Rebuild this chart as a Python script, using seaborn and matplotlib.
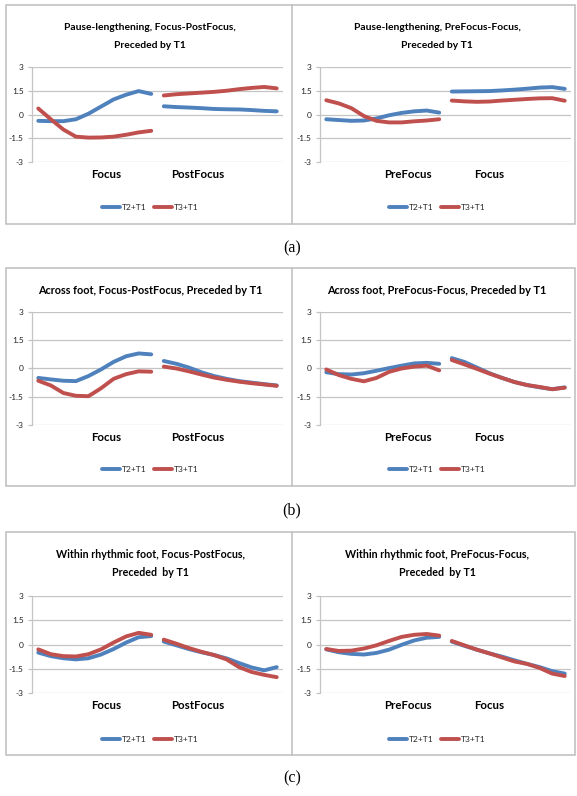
import pandas as pd
import matplotlib.pyplot as plt
import seaborn as sns
from matplotlib.lines import Line2D
from matplotlib.patches import Rectangle

# 20 measurement points per curve: 10 in the first region, 10 in the second
point_index = list(range(20))
segment_of_point = ["first"] * 10 + ["second"] * 10
series_names = ["T2+T1", "T3+T1"]
ytick_values = [-3, -1.5, 0, 1.5, 3]
ytick_labels = ["-3", "-1.5", "0", "1.5", "3"]

# (a) Pause-lengthening
pause_fp_t2 = [-0.4, -0.42, -0.42, -0.3, 0.05, 0.5, 0.95, 1.25, 1.48, 1.3,
               0.52, 0.47, 0.44, 0.4, 0.35, 0.33, 0.32, 0.28, 0.23, 0.2]
pause_fp_t3 = [0.38, -0.3, -0.95, -1.4, -1.46, -1.45, -1.4, -1.28, -1.13, -1.03,
               1.2, 1.28, 1.33, 1.38, 1.43, 1.5, 1.6, 1.68, 1.74, 1.65]
pause_pf_t2 = [-0.3, -0.35, -0.4, -0.38, -0.25, -0.05, 0.1, 0.2, 0.25, 0.12,
               1.45, 1.46, 1.47, 1.48, 1.52, 1.57, 1.63, 1.7, 1.73, 1.62]
pause_pf_t3 = [0.9, 0.7, 0.4, -0.1, -0.4, -0.5, -0.5, -0.43, -0.38, -0.3,
               0.88, 0.83, 0.8, 0.82, 0.88, 0.93, 0.98, 1.02, 1.03, 0.87]

# (b) Across foot
across_fp_t2 = [-0.5, -0.58, -0.65, -0.67, -0.4, -0.05, 0.35, 0.65, 0.8, 0.75,
                0.4, 0.25, 0.05, -0.2, -0.4, -0.55, -0.67, -0.75, -0.83, -0.9]
across_fp_t3 = [-0.65, -0.9, -1.3, -1.45, -1.47, -1.05, -0.55, -0.3, -0.15, -0.17,
                0.1, 0.0, -0.15, -0.32, -0.48, -0.6, -0.7, -0.78, -0.85, -0.92]
across_pf_t2 = [-0.2, -0.3, -0.32, -0.25, -0.12, 0.02, 0.15, 0.27, 0.3, 0.25,
                0.55, 0.35, 0.05, -0.25, -0.5, -0.72, -0.88, -1.0, -1.1, -1.0]
across_pf_t3 = [-0.05, -0.35, -0.55, -0.68, -0.5, -0.18, 0.0, 0.1, 0.15, -0.1,
                0.45, 0.22, -0.02, -0.27, -0.5, -0.72, -0.88, -0.98, -1.1, -1.02]

# (c) Within rhythmic foot
within_fp_t2 = [-0.5, -0.72, -0.85, -0.92, -0.85, -0.62, -0.28, 0.12, 0.45, 0.52,
                0.18, -0.05, -0.28, -0.48, -0.65, -0.86, -1.15, -1.42, -1.6, -1.4]
within_fp_t3 = [-0.3, -0.6, -0.72, -0.74, -0.6, -0.3, 0.12, 0.5, 0.72, 0.6,
                0.3, 0.05, -0.22, -0.45, -0.65, -0.92, -1.4, -1.7, -1.88, -2.02]
within_pf_t2 = [-0.3, -0.48, -0.58, -0.62, -0.52, -0.32, -0.02, 0.25, 0.42, 0.47,
                0.18, -0.08, -0.32, -0.55, -0.75, -0.98, -1.2, -1.4, -1.65, -1.8]
within_pf_t3 = [-0.28, -0.4, -0.38, -0.25, -0.05, 0.22, 0.47, 0.6, 0.65, 0.55,
                0.22, -0.05, -0.32, -0.55, -0.8, -1.05, -1.2, -1.45, -1.8, -1.95]

titles = [
    ["Pause-lengthening, Focus-PostFocus,", "Preceded by T1"],
    ["Pause-lengthening, PreFocus-Focus,", "Preceded by T1"],
    ["Across foot, Focus-PostFocus, Preceded by T1"],
    ["Across foot, PreFocus-Focus, Preceded by T1"],
    ["Within rhythmic foot, Focus-PostFocus,", "Preceded  by T1"],
    ["Within rhythmic foot, PreFocus-Focus,", "Preceded  by T1"],
]
category_labels = [["Focus", "PostFocus"], ["PreFocus", "Focus"]]
captions = ["(a)", "(b)", "(c)"]

W, H = 577, 796
BLUE, RED = "#4F81BD", "#C0504D"
GRID = "#c4c4c4"


def fig_rect(x0, x1, y0, y1):
    return [x0 / W, 1 - y1 / H, (x1 - x0) / W, (y1 - y0) / H]


def main():
    sns.set_theme(style="white")
    plt.rcParams["font.family"] = ["Liberation Sans Narrow", "Lato", "DejaVu Sans"]

    panels = [
        (pause_fp_t2, pause_fp_t3), (pause_pf_t2, pause_pf_t3),
        (across_fp_t2, across_fp_t3), (across_pf_t2, across_pf_t3),
        (within_fp_t2, within_fp_t3), (within_pf_t2, within_pf_t3),
    ]

    # layout in pixels
    col_axes_x = [(32, 283), (320, 571)]
    col_center = [150, 437]
    cat_pos = [[5.4, 12.7], [6.5, 13.0]]
    row_axes_y = [(67, 162), (312, 425), (596, 693)]
    row_title_y = [[28, 45], [290], [554, 573]]
    row_title_size = [7.4, 7.8, 7.7]
    row_legend_y = [207, 469, 739]
    row_box = [(5, 224), (268, 486), (532, 755)]
    row_caption_y = [248, 510, 778]

    fig = plt.figure(figsize=(W / 100, H / 100), dpi=100)

    for k, (t2, t3) in enumerate(panels):
        r, c = divmod(k, 2)
        df = pd.DataFrame({
            "idx": point_index * 2,
            "value": t2 + t3,
            "series": [series_names[0]] * 20 + [series_names[1]] * 20,
            "segment": segment_of_point * 2,
        })
        ax = fig.add_axes(fig_rect(*col_axes_x[c], *row_axes_y[r]))
        sns.lineplot(data=df, x="idx", y="value", hue="series", units="segment",
                     estimator=None, palette=[BLUE, RED], linewidth=2.8,
                     solid_capstyle="round", legend=False, ax=ax)
        ax.set_xlim(-0.5, 19.5)
        ax.set_ylim(-3, 3)
        ax.set_yticks(ytick_values)
        ax.set_yticklabels(ytick_labels)
        ax.set_xticks(cat_pos[c])
        ax.set_xticklabels(category_labels[c], fontweight="bold", fontsize=8.3)
        ax.set_xlabel("")
        ax.set_ylabel("")
        ax.grid(axis="y", color=GRID, linewidth=0.9)
        ax.set_axisbelow(True)
        for side in ["top", "right", "bottom"]:
            ax.spines[side].set_visible(False)
        ax.spines["left"].set_color(GRID)
        ax.spines["left"].set_linewidth(0.9)
        ax.tick_params(axis="y", left=True, length=3, width=0.9, color=GRID,
                       labelsize=6, pad=3, labelcolor="#222222")
        ax.tick_params(axis="x", length=0, pad=5, labelcolor="black")

        for line, ty in zip(titles[k], row_title_y[r]):
            fig.text(col_center[c] / W, 1 - ty / H, line, ha="center", va="center",
                     fontsize=row_title_size[r], fontweight="bold", color="black")

        handles = [Line2D([], [], color=BLUE, lw=2.8),
                   Line2D([], [], color=RED, lw=2.8)]
        ax.legend(handles, series_names, loc="center", ncol=2, frameon=False,
                  bbox_to_anchor=(col_center[c] / W, 1 - row_legend_y[r] / H),
                  bbox_transform=fig.transFigure, fontsize=6, handlelength=2.2,
                  handletextpad=0.15, columnspacing=0.9)

    # table-like borders around each row of charts
    for (y0, y1), cy, cap in zip(row_box, row_caption_y, captions):
        fig.add_artist(Rectangle((6 / W, 1 - y1 / H), (575 - 6) / W, (y1 - y0) / H,
                                 transform=fig.transFigure, fill=False,
                                 edgecolor="#bdbdbd", linewidth=1.1))
        fig.add_artist(Line2D([292 / W, 292 / W], [1 - y0 / H, 1 - y1 / H],
                              transform=fig.transFigure, color="#bdbdbd", lw=1.1))
        fig.text(292 / W, 1 - cy / H, cap, ha="center", va="center", fontsize=11.5,
                 family=["Liberation Serif", "DejaVu Serif"], color="black")

    fig.savefig("out.png", dpi=100)
    plt.close(fig)


if __name__ == "__main__":
    main()
